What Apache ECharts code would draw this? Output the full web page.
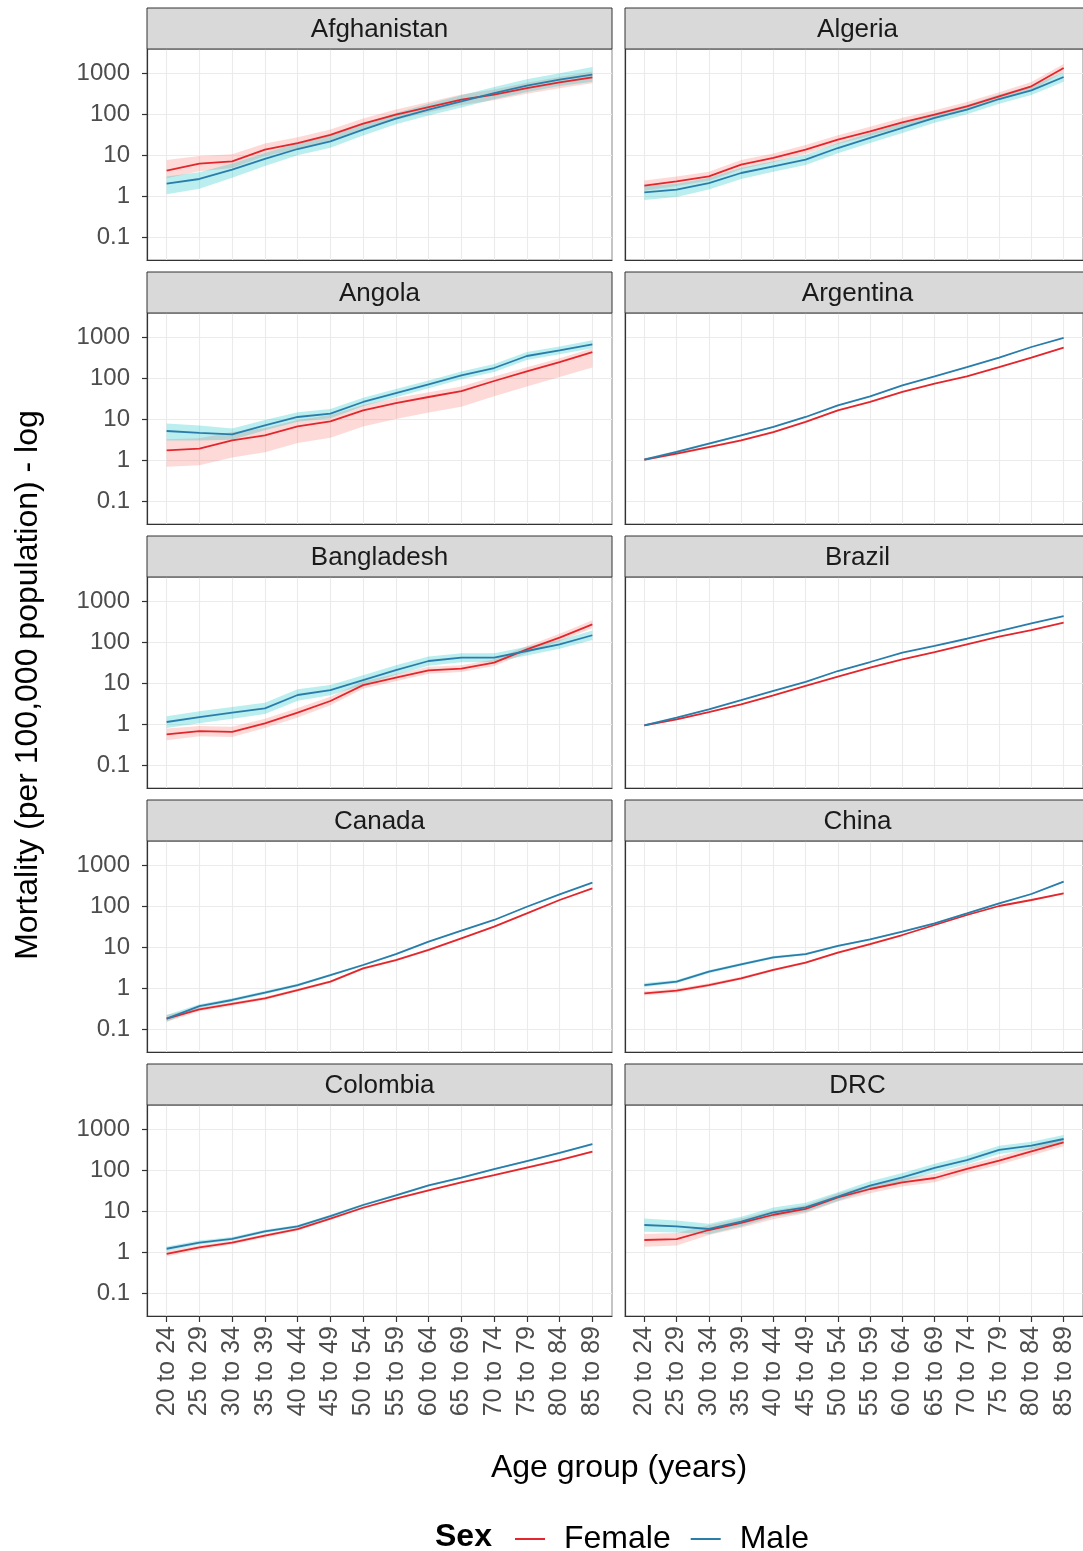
<!DOCTYPE html>
<html><head><meta charset="utf-8">
<script src="https://cdn.jsdelivr.net/npm/echarts@6/dist/echarts.min.js"></script>
<style>html,body{margin:0;padding:0;background:#fff}#c{width:1083px;height:1551px}</style>
</head><body><div id="c"></div>
<script>
// ---------- categories & ticks ----------
const AGE_GROUPS = ['20 to 24','25 to 29','30 to 34','35 to 39','40 to 44','45 to 49','50 to 54','55 to 59','60 to 64','65 to 69','70 to 74','75 to 79','80 to 84','85 to 89'];
const Y_TICKS = [0.1, 1, 10, 100, 1000];
const COUNTRIES = ['Afghanistan','Algeria','Angola','Argentina','Bangladesh','Brazil','Canada','China','Colombia','DRC'];
const SEXES = ['Female','Male'];

// ---------- values (deaths per 100,000) ----------
const afghanistanFemale     = [4.15, 6.15, 7.0, 13.5, 19.6, 31, 58, 96, 148, 224, 295, 430, 592, 783];
const afghanistanFemaleLow  = [2.7, 4.0, 4.8, 9.5, 14, 23, 44, 72, 110, 165, 215, 310, 425, 560];
const afghanistanFemaleHigh = [7.5, 9.5, 10.5, 19, 27, 42, 78, 128, 196, 300, 395, 580, 800, 1080];
const afghanistanMale       = [2.0, 2.6, 4.4, 8.0, 14, 21.5, 41.5, 77, 128, 204, 325, 491, 687, 911];
const afghanistanMaleLow    = [1.1, 1.5, 2.8, 5.4, 9.8, 15, 30, 56, 92, 145, 230, 345, 480, 610];
const afghanistanMaleHigh   = [3.0, 3.8, 6.2, 11.2, 19.5, 30, 57, 106, 178, 285, 455, 700, 990, 1400];

const algeriaFemale     = [1.79, 2.28, 3.0, 5.8, 8.5, 13.5, 23.7, 37.8, 62.6, 96, 154, 270, 473, 1324];
const algeriaFemaleLow  = [1.35, 1.75, 2.35, 4.5, 6.7, 10.6, 18.5, 29.5, 49, 76, 122, 215, 375, 1050];
const algeriaFemaleHigh = [2.4, 3.0, 3.9, 7.5, 10.9, 17.5, 30.5, 49, 81, 124, 196, 340, 600, 1650];
const algeriaMale       = [1.23, 1.43, 2.07, 3.64, 5.3, 7.7, 14.8, 26, 45.6, 80, 128, 232, 378, 798];
const algeriaMaleLow    = [0.8, 0.95, 1.45, 2.6, 3.9, 5.7, 11, 19.5, 34.5, 61, 98, 178, 290, 610];
const algeriaMaleHigh   = [1.75, 2.0, 2.8, 4.9, 7.0, 10.2, 19.5, 34.5, 60, 104, 166, 300, 490, 1040];

const angolaFemale     = [1.72, 1.89, 3.0, 4.0, 6.6, 8.8, 16.3, 24.5, 34.4, 48, 84.5, 145, 245, 430];
const angolaFemaleLow  = [0.68, 0.75, 1.15, 1.55, 2.6, 3.5, 6.6, 10, 14.5, 20, 36, 62, 105, 180];
const angolaFemaleHigh = [3.2, 3.4, 4.8, 6.0, 9.5, 12.5, 22, 32.5, 45, 62, 108, 182, 305, 530];
const angolaMale       = [5.1, 4.6, 4.2, 7.0, 11.2, 13.5, 26, 43, 70, 116, 175, 344, 473, 662];
const angolaMaleLow    = [3.0, 3.0, 3.1, 5.3, 8.6, 10.5, 20.5, 34, 56, 93, 140, 275, 380, 530];
const angolaMaleHigh   = [7.8, 6.9, 5.9, 9.4, 14.6, 17.5, 33, 54, 87, 144, 218, 430, 590, 830];

const argentinaFemale     = [1.02, 1.43, 2.07, 3.0, 4.8, 8.5, 16.3, 26, 45.6, 72.8, 110, 185, 313, 550];
const argentinaFemaleLow  = [0.94, 1.33, 1.94, 2.83, 4.55, 8.1, 15.6, 25, 44, 70.5, 106.5, 179, 303, 532];
const argentinaFemaleHigh = [1.11, 1.54, 2.21, 3.18, 5.07, 8.9, 17.0, 27, 47.2, 75.2, 113.5, 191, 323, 568];
const argentinaMale       = [1.02, 1.57, 2.5, 4.0, 6.4, 11.2, 21.5, 35.7, 66, 110, 185, 313, 570, 946];
const argentinaMaleLow    = [0.94, 1.46, 2.35, 3.8, 6.1, 10.7, 20.6, 34.4, 63.8, 106.5, 179, 303, 552, 915];
const argentinaMaleHigh   = [1.11, 1.69, 2.66, 4.2, 6.7, 11.7, 22.4, 37, 68.2, 113.5, 191, 323, 588, 977];

const bangladeshFemale     = [0.56, 0.67, 0.64, 1.04, 1.89, 3.64, 8.9, 13.5, 20.4, 22.4, 31.3, 66, 128, 270];
const bangladeshFemaleLow  = [0.4, 0.5, 0.48, 0.8, 1.45, 2.85, 7.2, 11, 16.8, 18.6, 26, 54, 104, 215];
const bangladeshFemaleHigh = [0.78, 0.9, 0.86, 1.35, 2.45, 4.6, 11, 16.5, 24.8, 27, 37.6, 80, 158, 340];
const bangladeshMale       = [1.12, 1.48, 1.89, 2.41, 5.1, 6.7, 11.8, 20.7, 34.4, 41.5, 41.5, 60.3, 87.7, 146];
const bangladeshMaleLow    = [0.8, 1.05, 1.35, 1.75, 3.7, 5.0, 9.0, 15.8, 26.5, 32, 32.5, 47, 68, 112];
const bangladeshMaleHigh   = [1.55, 2.05, 2.6, 3.3, 7.0, 9.0, 15.5, 27, 44.5, 53.5, 53, 77, 112, 190];

const brazilFemale     = [0.93, 1.3, 1.96, 3.0, 5.0, 8.5, 14.3, 23.7, 37.8, 57, 87.7, 135, 196, 296];
const brazilFemaleLow  = [0.88, 1.24, 1.88, 2.9, 4.85, 8.25, 13.9, 23.1, 36.9, 55.7, 85.8, 132, 191.5, 289];
const brazilFemaleHigh = [0.98, 1.36, 2.04, 3.1, 5.15, 8.75, 14.7, 24.3, 38.7, 58.3, 89.6, 138, 200.5, 303];
const brazilMale       = [0.93, 1.43, 2.28, 3.8, 6.4, 10.6, 19.6, 32.5, 55, 80, 120, 185, 285, 430];
const brazilMaleLow    = [0.88, 1.37, 2.2, 3.68, 6.22, 10.3, 19.1, 31.8, 53.8, 78.2, 117.3, 181, 278.5, 420];
const brazilMaleHigh   = [0.98, 1.49, 2.36, 3.92, 6.58, 10.9, 20.1, 33.2, 56.2, 81.8, 122.7, 189, 291.5, 440];

const canadaFemale     = [0.18, 0.30, 0.41, 0.56, 0.89, 1.43, 3.0, 4.8, 8.5, 16.3, 31.3, 66, 140, 270];
const canadaFemaleLow  = [0.15, 0.27, 0.37, 0.51, 0.82, 1.33, 2.8, 4.5, 8.0, 15.5, 30, 63.5, 135, 261];
const canadaFemaleHigh = [0.22, 0.33, 0.45, 0.61, 0.96, 1.53, 3.2, 5.1, 9.0, 17.1, 32.6, 68.5, 145, 279];
const canadaMale       = [0.18, 0.36, 0.51, 0.77, 1.18, 2.07, 3.64, 6.7, 13.5, 25, 45.6, 96, 193, 371];
const canadaMaleLow    = [0.15, 0.32, 0.46, 0.7, 1.09, 1.93, 3.42, 6.35, 12.9, 24, 44, 93, 187, 360];
const canadaMaleHigh   = [0.22, 0.40, 0.56, 0.84, 1.27, 2.21, 3.86, 7.05, 14.1, 26, 47.2, 99, 199, 382];

const chinaFemale     = [0.74, 0.86, 1.18, 1.72, 2.75, 4.15, 7.3, 11.8, 19.6, 34.4, 60.3, 100, 140, 204];
const chinaFemaleLow  = [0.66, 0.77, 1.07, 1.58, 2.55, 3.88, 6.85, 11.1, 18.6, 32.8, 57.6, 95.5, 133.5, 194];
const chinaFemaleHigh = [0.83, 0.96, 1.3, 1.87, 2.96, 4.44, 7.78, 12.5, 20.6, 36, 63, 104.5, 146.5, 214];
const chinaMale       = [1.18, 1.43, 2.5, 3.78, 5.6, 6.7, 10.6, 15.4, 23.7, 37.8, 66, 116, 196, 392];
const chinaMaleLow    = [1.06, 1.3, 2.3, 3.5, 5.2, 6.3, 10, 14.6, 22.6, 36.1, 63.2, 111, 187, 374];
const chinaMaleHigh   = [1.32, 1.57, 2.72, 4.08, 6.02, 7.12, 11.2, 16.2, 24.8, 39.5, 68.9, 121, 205, 410];

const colombiaFemale     = [0.9, 1.3, 1.7, 2.5, 3.6, 6.5, 12, 20, 32, 50, 75, 115, 175, 280];
const colombiaFemaleLow  = [0.78, 1.15, 1.53, 2.27, 3.3, 6.0, 11.2, 18.8, 30.2, 47.3, 71, 109, 166, 265];
const colombiaFemaleHigh = [1.04, 1.47, 1.89, 2.75, 3.92, 7.05, 12.85, 21.3, 33.9, 52.8, 79, 121.3, 184.5, 296];
const colombiaMale       = [1.2, 1.7, 2.1, 3.2, 4.2, 7.5, 14, 24, 42, 65, 105, 165, 260, 430];
const colombiaMaleLow    = [1.05, 1.52, 1.9, 2.92, 3.86, 6.95, 13.1, 22.6, 39.6, 61.5, 99.5, 156.5, 246, 406];
const colombiaMaleHigh   = [1.37, 1.9, 2.32, 3.5, 4.57, 8.1, 15, 25.5, 44.5, 68.7, 110.8, 174, 275, 455];

const drcFemale     = [1.96, 2.07, 3.44, 5.1, 8.1, 11.2, 21.5, 34.4, 50, 63.8, 106, 169, 285, 473];
const drcFemaleLow  = [1.35, 1.45, 2.6, 3.9, 6.3, 8.8, 17, 27.2, 39.5, 50.5, 84, 134, 226, 380];
const drcFemaleHigh = [2.75, 2.9, 4.5, 6.6, 10.3, 14.1, 27, 43.2, 63, 80.5, 133.5, 212, 358, 590];
const drcMale       = [4.56, 4.2, 3.64, 5.5, 9.3, 12.3, 22.4, 41.5, 66, 112, 175, 308, 392, 570];
const drcMaleLow    = [3.1, 3.0, 2.7, 4.2, 7.1, 9.5, 17.6, 32.5, 52, 88, 138, 245, 315, 460];
const drcMaleHigh   = [6.6, 5.9, 4.9, 7.2, 12.1, 15.9, 28.5, 53, 84, 142, 222, 388, 490, 710];

// ---------- assemble panels ----------
const PANEL_DATA = [
  [afghanistanFemale, afghanistanFemaleLow, afghanistanFemaleHigh, afghanistanMale, afghanistanMaleLow, afghanistanMaleHigh],
  [algeriaFemale, algeriaFemaleLow, algeriaFemaleHigh, algeriaMale, algeriaMaleLow, algeriaMaleHigh],
  [angolaFemale, angolaFemaleLow, angolaFemaleHigh, angolaMale, angolaMaleLow, angolaMaleHigh],
  [argentinaFemale, argentinaFemaleLow, argentinaFemaleHigh, argentinaMale, argentinaMaleLow, argentinaMaleHigh],
  [bangladeshFemale, bangladeshFemaleLow, bangladeshFemaleHigh, bangladeshMale, bangladeshMaleLow, bangladeshMaleHigh],
  [brazilFemale, brazilFemaleLow, brazilFemaleHigh, brazilMale, brazilMaleLow, brazilMaleHigh],
  [canadaFemale, canadaFemaleLow, canadaFemaleHigh, canadaMale, canadaMaleLow, canadaMaleHigh],
  [chinaFemale, chinaFemaleLow, chinaFemaleHigh, chinaMale, chinaMaleLow, chinaMaleHigh],
  [colombiaFemale, colombiaFemaleLow, colombiaFemaleHigh, colombiaMale, colombiaMaleLow, colombiaMaleHigh],
  [drcFemale, drcFemaleLow, drcFemaleHigh, drcMale, drcMaleLow, drcMaleHigh]
];

// ---------- layout & style ----------
const FONT = 'Liberation Sans, Arial, sans-serif';
const LINE_COLORS = {Female: '#e3262c', Male: '#2a7dab'};
const FILL_COLORS = {Female: 'rgba(248,118,109,0.27)', Male: 'rgba(0,191,196,0.27)'};
const COL_LEFT = [147, 625];
const PANEL_W = 465;
const FIRST_TOP = 49;
const ROW_STEP = 264;
const PLOT_H = 211;
const STRIP_H = 41;
const Y_MIN = 0.0275, Y_MAX = 3846;
const X_IDX = AGE_GROUPS.map((_, k) => k);

const grids = [], xAxes = [], yAxes = [], series = [], graphics = [];
COUNTRIES.forEach((name, i) => {
  const r = Math.floor(i / 2), c = i % 2;
  const left = COL_LEFT[c], top = FIRST_TOP + r * ROW_STEP;
  const bottomRow = r === 4;
  grids.push({left, top, width: PANEL_W, height: PLOT_H, show: true,
    borderColor: '#8a8a8a', borderWidth: 1, backgroundColor: '#fff'});
  xAxes.push({type: 'value', gridIndex: i, min: -0.6, max: 13.6,
    axisLine: {show: true, onZero: false, lineStyle: {color: '#333', width: 1.2}},
    axisTick: {show: bottomRow, length: 6, lineStyle: {color: '#333', width: 1.2}, customValues: X_IDX},
    axisLabel: {show: bottomRow, customValues: X_IDX, rotate: 90, margin: 10,
      fontSize: 25, fontFamily: FONT, color: '#4d4d4d',
      formatter: v => AGE_GROUPS[Math.round(v)]},
    splitLine: {show: true, lineStyle: {color: '#ebebeb', width: 1.1}}});
  yAxes.push({type: 'log', logBase: 10, gridIndex: i, min: Y_MIN, max: Y_MAX,
    axisLine: {show: true, onZero: false, lineStyle: {color: '#333', width: 1.2}},
    axisTick: {show: c === 0, length: 5, lineStyle: {color: '#333', width: 1.2}, customValues: Y_TICKS},
    axisLabel: {show: c === 0, customValues: Y_TICKS, margin: 17, fontSize: 24, fontFamily: FONT, color: '#4d4d4d',
      formatter: v => String(+Number(v).toPrecision(3))},
    splitLine: {show: true, lineStyle: {color: '#ebebeb', width: 1.1}}});

  const d = PANEL_DATA[i];
  const sets = {Female: [d[0], d[1], d[2]], Male: [d[3], d[4], d[5]]};
  SEXES.forEach(sex => {
    const [, lo, hi] = sets[sex];
    series.push({type: 'custom', name: sex + ' interval', xAxisIndex: i, yAxisIndex: i, silent: true, z: 1,
      data: lo.map((v, k) => [k, v, hi[k]]),
      encode: {x: 0, y: [1, 2]},
      renderItem: (params, api) => {
        if (params.dataIndex !== 0) return null;
        const upper = hi.map((v, k) => api.coord([k, v]));
        const lower = lo.map((v, k) => api.coord([k, v])).reverse();
        return {type: 'polygon', shape: {points: upper.concat(lower)}, style: {fill: FILL_COLORS[sex]}};
      }});
  });
  SEXES.forEach(sex => {
    series.push({type: 'line', name: sex, xAxisIndex: i, yAxisIndex: i,
      data: sets[sex][0].map((v, k) => [k, v]), symbol: 'none', color: LINE_COLORS[sex],
      lineStyle: {width: 1.8, color: LINE_COLORS[sex]}, z: 3});
  });

  graphics.push({type: 'rect', shape: {x: left, y: top - STRIP_H, width: PANEL_W, height: STRIP_H},
    style: {fill: '#d9d9d9', stroke: '#333', lineWidth: 1}, z: 10});
  graphics.push({type: 'text', x: left + PANEL_W / 2, y: top - STRIP_H / 2 + 1,
    style: {text: name, fontSize: 26, fontFamily: FONT, fill: '#1a1a1a', align: 'center', verticalAlign: 'middle'}, z: 11});
});

graphics.push({type: 'text', x: 619, y: 1468,
  style: {text: 'Age group (years)', fontSize: 32, fontFamily: FONT, fill: '#000', align: 'center', verticalAlign: 'middle'}});
graphics.push({type: 'text', x: 28, y: 685, rotation: Math.PI / 2,
  style: {text: 'Mortality (per 100,000 population) - log', fontSize: 32, fontFamily: FONT, fill: '#000', align: 'center', verticalAlign: 'middle'}});
graphics.push({type: 'text', x: 435, y: 1537,
  style: {text: 'Sex', fontSize: 32, fontWeight: 'bold', fontFamily: FONT, fill: '#000', align: 'left', verticalAlign: 'middle'}});

const chart = echarts.init(document.getElementById('c'), null, {renderer: 'canvas'});
chart.setOption({
  animation: false,
  backgroundColor: '#fff',
  grid: grids, xAxis: xAxes, yAxis: yAxes, series,
  legend: {data: SEXES, left: 510, top: 1518, icon: 'rect', itemWidth: 30, itemHeight: 2, itemGap: 20,
    textStyle: {fontSize: 32, fontFamily: FONT, color: '#000', padding: [0, 0, 0, 14]}},
  graphic: graphics
});
</script></body></html>
